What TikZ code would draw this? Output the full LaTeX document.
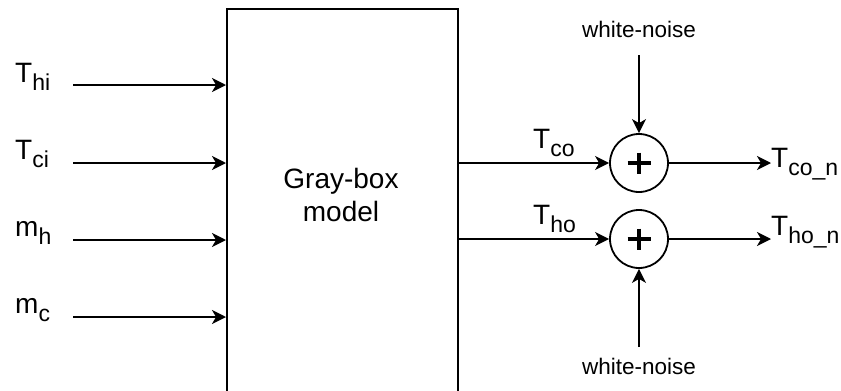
\documentclass[tikz,border=0pt]{standalone}
\usepackage{fontspec}
\setmainfont{Liberation Sans}
\usetikzlibrary{arrows.meta}
% subscript set lower and smaller than the main letter
\newcommand\lowsub[1]{\raisebox{-8pt}{\fontsize{23}{23}\selectfont #1}}
\newcommand\var[2]{{\fontsize{28}{28}\selectfont #1}\lowsub{#2}}
\begin{document}
\begin{tikzpicture}[x=1pt,y=-1pt,
  >={Stealth[length=14pt,width=14pt,inset=4pt]},
  wire/.style={line width=1.8pt,->},
  lbl/.style={inner sep=0pt,anchor=base west},
  noise/.style={inner sep=0pt,anchor=base,font=\fontsize{22.5}{22.5}\selectfont},
  sumnode/.style={circle,draw,line width=1.8pt,minimum size=58pt,inner sep=0pt}]
\useasboundingbox (0,0) rectangle (841,391);
\clip (0,0) rectangle (841,391);

% the model block (runs past the lower edge)
\node[draw,line width=1.8pt,anchor=north west,minimum width=231pt,minimum height=400pt,inner sep=0pt] (box) at (226,8) {};
\node[align=center,font=\fontsize{28}{33}\selectfont,inner sep=0pt] (boxtxt) at (341,195) {Gray-box\\model};

% inputs
\node[lbl] (lThi) at (15,82) {\var{T}{hi}};
\node[lbl] (lTci) at (15,159) {\var{T}{ci}};
\node[lbl] (lmh) at (15,236) {\var{m}{h}};
\node[lbl] (lmc) at (15,313) {\var{m}{c}};
\coordinate (s1) at (73,85);
\coordinate (s2) at (73,163);
\coordinate (s3) at (73,240);
\coordinate (s4) at (73,317);
\foreach \s in {s1,s2,s3,s4}
  \draw[wire] (\s) -- (\s -| box.west);

% summing junctions
\node[sumnode] (sum1) at (639,163) {};
\node[sumnode] (sum2) at (639,239) {};
\foreach \c in {sum1,sum2}{
  \draw[line width=3.2pt] (\c.center) +(-11.5,0) -- +(11.5,0);
  \draw[line width=3.2pt] (\c.center) +(0,-10.5) -- +(0,10.5);
}

% model outputs into the junctions
\draw[wire] (sum1.west -| box.east) -- (sum1.west);
\draw[wire] (sum2.west -| box.east) -- (sum2.west);
\node[lbl] (lTco) at (533,148) {\var{T}{co}};
\node[lbl] (lTho) at (533,224) {\var{T}{ho}};

% noise inputs
\node[noise] (wn1) at (639,37) {white-noise};
\node[noise] (wn2) at (639,374) {white-noise};
\coordinate (n1) at (639,55);
\coordinate (n2) at (639,347);
\draw[wire] (n1) -- (sum1.north);
\draw[wire] (n2) -- (sum2.south);

% noisy outputs
\node[lbl] (lTcon) at (771,167) {\var{T}{co\_n}};
\node[lbl] (lThon) at (771,235) {\var{T}{ho\_n}};
\draw[wire] (sum1.east) -- (sum1.east -| lTcon.west);
\draw[wire] (sum2.east) -- (sum2.east -| lThon.west);
\end{tikzpicture}
\end{document}
